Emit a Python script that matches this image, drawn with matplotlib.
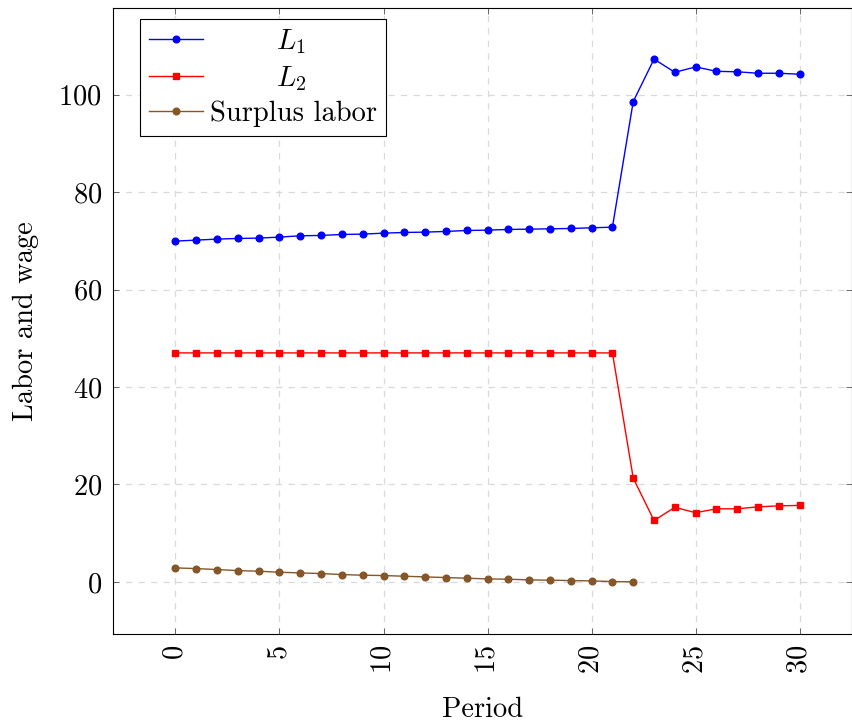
import matplotlib.pyplot as plt
import numpy as np

plt.rcParams['font.family'] = 'serif'
plt.rcParams['font.serif'] = ['cmr10', 'DejaVu Serif']
plt.rcParams['mathtext.fontset'] = 'cm'
plt.rcParams['axes.formatter.use_mathtext'] = True
plt.rcParams['font.size'] = 20.5

periods_main = list(range(0, 31))
periods_surplus = list(range(0, 23))

L1 = [69.95, 70.15, 70.36, 70.49, 70.56, 70.77, 71.04, 71.11, 71.31, 71.38,
      71.58, 71.72, 71.79, 71.93, 72.13, 72.20, 72.34, 72.40, 72.47, 72.54,
      72.68, 72.81, 98.6, 107.3, 104.6, 105.7, 104.8, 104.7, 104.4, 104.4,
      104.2]
L2 = [47.0] * 22 + [21.3, 12.6, 15.3, 14.2, 15.0, 15.0, 15.4, 15.6, 15.7]
surplus = [2.87, 2.73, 2.53, 2.32, 2.19, 1.98, 1.84, 1.71, 1.50, 1.37,
           1.30, 1.16, 1.02, 0.89, 0.75, 0.61, 0.55, 0.41, 0.34, 0.27,
           0.20, 0.07, 0.0]

xticks = [0, 5, 10, 15, 20, 25, 30]
yticks = [0, 20, 40, 60, 80, 100]

fig = plt.figure(figsize=(8.53, 7.25), dpi=100)
ax = fig.add_axes([0.1325, 0.1255, 0.866, 0.8635])

ax.plot(periods_main, L1, color='blue', marker='o', markersize=4.8,
        linewidth=1.0, label='$L_1$')
ax.plot(periods_main, L2, color='red', marker='s', markersize=4.5,
        linewidth=1.0, label='$L_2$')
ax.plot(periods_surplus, surplus, color='#855628', marker='o',
        markersize=4.8, linewidth=1.0, label='Surplus labor')

ax.set_xlim(-3, 32.5)
ax.set_ylim(-10.7, 117.8)
ax.set_xticks(xticks)
ax.set_yticks(yticks)
ax.tick_params(axis='x', labelrotation=90, pad=8)
ax.tick_params(axis='y', pad=8)
ax.tick_params(direction='in', top=True, right=True, length=4, width=0.6,
               color='#555555')
ax.grid(True, linestyle=(0, (5, 5)), color='#d9d9d9', linewidth=0.9)
ax.set_axisbelow(True)
for s in ax.spines.values():
    s.set_linewidth(0.8)

ax.set_xlabel('Period', labelpad=16)
ax.set_ylabel('Labor and wage', labelpad=14)

handles, labels = ax.get_legend_handles_labels()
labels = ['       $L_1$', '       $L_2$', 'Surplus labor']
leg = ax.legend(handles, labels, loc='upper left',
                bbox_to_anchor=(0.037, 0.983),
                fancybox=False, edgecolor='black', framealpha=1,
                handlelength=1.9, borderpad=0.3, labelspacing=0.28,
                handletextpad=0.25, borderaxespad=0)
leg.get_frame().set_linewidth(0.8)

fig.savefig('out.png', dpi=100)
